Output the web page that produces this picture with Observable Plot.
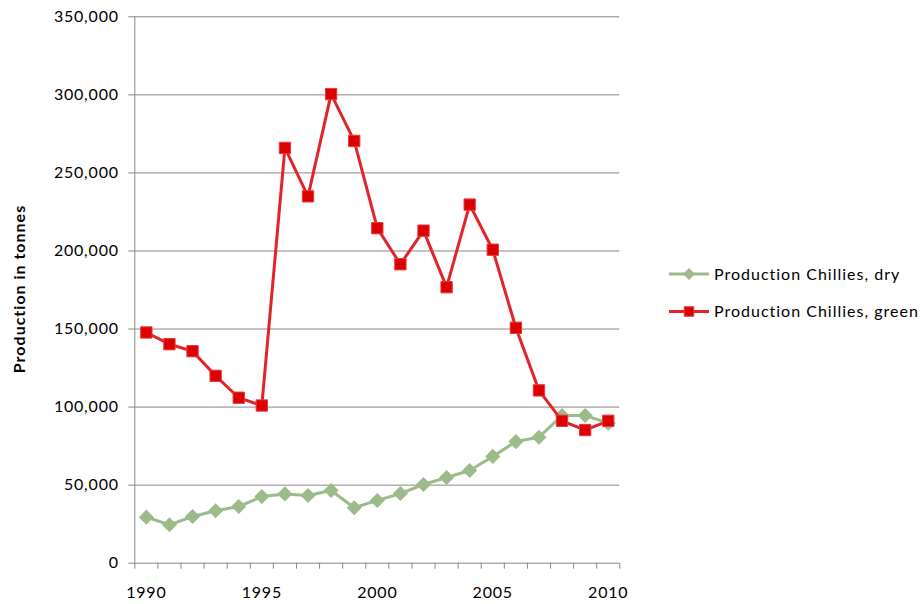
<!DOCTYPE html>
<html>
<head>
<meta charset="utf-8">
<script src="https://cdn.jsdelivr.net/npm/d3@7"></script>
<script src="https://cdn.jsdelivr.net/npm/@observablehq/plot@0.6"></script>
<style>
  html, body { margin: 0; padding: 0; background: #fff; }
  #chart { width: 921px; height: 604px; }
  #chart svg { font-family: Lato, "Liberation Sans", sans-serif; }
  #chart svg text { letter-spacing: 0.8px; }
</style>
</head>
<body>
<div id="chart"></div>
<script>
// Production of chillies, in tonnes, 1990–2010
const years = [1990, 1991, 1992, 1993, 1994, 1995, 1996, 1997, 1998, 1999, 2000,
               2001, 2002, 2003, 2004, 2005, 2006, 2007, 2008, 2009, 2010];
const dryValues = [29500, 24600, 29900, 33600, 36300, 42700, 44400, 43400, 46600, 35500, 40200,
                   44600, 50400, 54900, 59400, 68400, 77900, 80700, 94600, 94600, 89700];
const greenValues = [147800, 140300, 135800, 120000, 106000, 101000, 266000, 235000, 300500, 270500, 214600,
                     191500, 213000, 176800, 229700, 200800, 150800, 110700, 91200, 85300, 91200];
const seriesNames = ["Production Chillies, dry", "Production Chillies, green"];
const yTicks = [0, 50000, 100000, 150000, 200000, 250000, 300000, 350000];
const xLabels = [1990, 1995, 2000, 2005, 2010];
const yTitle = "Production in tonnes";

const dryColor = "#9dbb8a";
const greenLine = "#e2232b";
const greenMarker = "#dd0000";
const gridColor = "#878787";

const dry = years.map((year, i) => ({year, value: dryValues[i]}));
const green = years.map((year, i) => ({year, value: greenValues[i]}));
// category boundaries, where the x-axis tick marks sit
const boundaries = d3.range(years[0] - 0.5, years[years.length - 1] + 1, 1);

const chart = Plot.plot({
  width: 921,
  height: 604,
  marginLeft: 134.3,
  marginRight: 301.7,
  marginTop: 16.3,
  marginBottom: 41.3,
  style: {fontFamily: "Lato, 'Liberation Sans', sans-serif", background: "#fff"},
  x: {domain: [years[0] - 0.5, years[years.length - 1] + 0.5], axis: null},
  y: {domain: [0, 350000], axis: null},
  marks: [
    Plot.gridY(yTicks, {stroke: gridColor, strokeOpacity: 1, strokeWidth: 1}),
    Plot.ruleX([years[0] - 0.5], {stroke: gridColor, strokeWidth: 1}),
    Plot.axisY(yTicks, {
      tickSize: 6, tickPadding: 10, stroke: gridColor, fill: "#000",
      fontSize: 16, tickFormat: d3.format(","), label: null
    }),
    Plot.axisX(boundaries, {
      tickSize: 6, stroke: gridColor, tickFormat: () => "", label: null
    }),
    Plot.axisX(xLabels, {
      tickSize: 0, tickPadding: 23, fill: "#000", fontSize: 16,
      tickFormat: d => String(d), label: null
    }),
    Plot.line(dry, {x: "year", y: "value", stroke: dryColor, strokeWidth: 3}),
    Plot.dot(dry, {x: "year", y: "value", symbol: "diamond2", r: 6.8, fill: dryColor, stroke: "none"}),
    Plot.line(green, {x: "year", y: "value", stroke: greenLine, strokeWidth: 3}),
    Plot.dot(green, {x: "year", y: "value", symbol: "square", r: 6.4, fill: greenMarker, stroke: "#e63b3f", strokeWidth: 1})
  ]
});

document.getElementById("chart").appendChild(chart);

const svg = d3.select(chart);

// rotated y-axis title
svg.append("text")
  .attr("transform", "translate(19,289) rotate(-90)")
  .attr("text-anchor", "middle")
  .attr("dy", "0.35em")
  .attr("font-size", 16)
  .attr("font-weight", "bold")
  .attr("fill", "#000")
  .style("letter-spacing", "1px")
  .text(yTitle);

// legend
const legendItems = [
  {name: seriesNames[0], line: dryColor, fill: dryColor, stroke: "none", symbol: d3.symbolDiamond2, size: 90},
  {name: seriesNames[1], line: greenLine, fill: greenMarker, stroke: "#e63b3f", symbol: d3.symbolSquare, size: 90}
];
const legend = svg.append("g");
legendItems.forEach((item, i) => {
  const y = 274 + i * 37.5;
  const g = legend.append("g").attr("transform", `translate(0,${y})`);
  g.append("line").attr("x1", 669).attr("x2", 709).attr("y1", 0).attr("y2", 0)
    .attr("stroke", item.line).attr("stroke-width", 3);
  g.append("path").attr("transform", "translate(689,0)")
    .attr("d", d3.symbol(item.symbol, item.size)())
    .attr("fill", item.fill).attr("stroke", item.stroke);
  g.append("text").attr("x", 714).attr("dy", "0.35em")
    .attr("text-anchor", "start")
    .attr("font-size", 16).attr("fill", "#000")
    .style("letter-spacing", "1px")
    .text(item.name);
});
</script>
</body>
</html>
